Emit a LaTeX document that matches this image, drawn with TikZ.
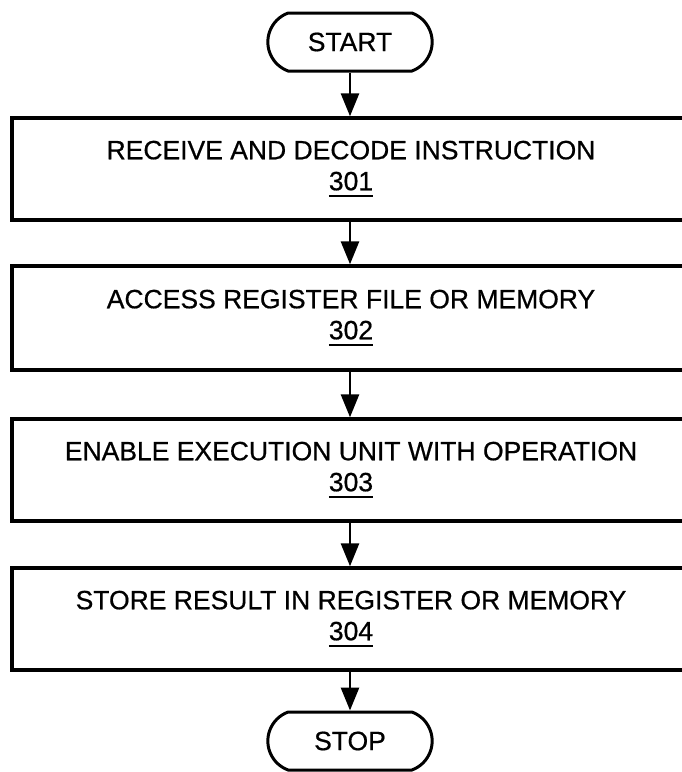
\documentclass[tikz,border=0pt]{standalone}
\usepackage{fontspec}
\setmainfont[FakeBold=0.6,AutoFakeBold=0.6]{Liberation Sans}
\usetikzlibrary{arrows.meta,shapes.misc}
\newcommand\refnum[1]{\setbox0\hbox{#1}\rlap{\rule[-7pt]{\wd0}{2.6pt}}\box0}
\begin{document}
\begin{tikzpicture}[x=1pt,y=-1pt,
  stepbox/.style={draw,line width=3.4pt,minimum width=678pt,minimum height=102pt,align=center,
    font=\fontsize{26.5}{31}\bfseries,inner sep=0pt},
  term/.style={draw,line width=3pt,rounded rectangle,rounded rectangle arc length=140,
    minimum width=171pt,minimum height=58pt,font=\fontsize{26.5}{31}\bfseries},
  flow/.style={line width=2.8pt,-{Triangle[length=23pt,width=18pt]}}]
\useasboundingbox (0,0) rectangle (682,772);
\clip (0,0) rectangle (682,772);
\node[term] (start) at (350,42) {START};
\node[stepbox] (b1) at (351,169) {RECEIVE AND DECODE INSTRUCTION\\\refnum{301}};
\node[stepbox,minimum height=104pt] (b2) at (351,318) {ACCESS REGISTER FILE OR MEMORY\\\refnum{302}};
\node[stepbox] (b3) at (351,470) {ENABLE EXECUTION UNIT WITH OPERATION\\\refnum{303}};
\node[stepbox] (b4) at (351,619) {STORE RESULT IN REGISTER OR MEMORY\\\refnum{304}};
\node[term] (stop) at (350,741) {STOP};
\draw[flow] (start.south) -- (start.south |- b1.north);
\draw[flow] (start.south |- b1.south) -- (start.south |- b2.north);
\draw[flow] (start.south |- b2.south) -- (start.south |- b3.north);
\draw[flow] (start.south |- b3.south) -- (start.south |- b4.north);
\draw[flow] (start.south |- b4.south) -- (stop.north);
\end{tikzpicture}
\end{document}
